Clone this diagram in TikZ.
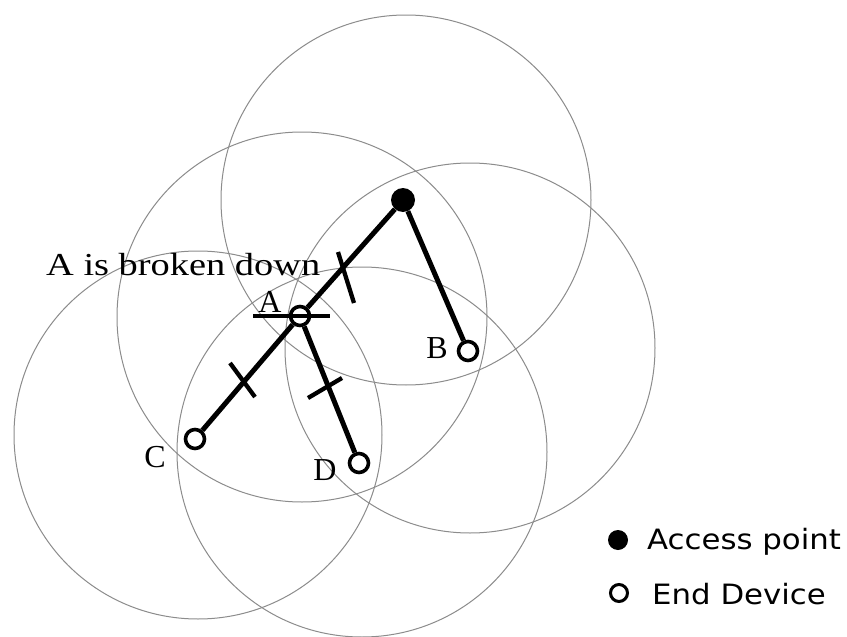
\documentclass[tikz,border=0pt]{standalone}
\usepackage{graphicx}
\usepackage{fontspec}
\setmainfont{Liberation Serif}
\newfontfamily\legendfont{DejaVu Sans}
\begin{document}
\begin{tikzpicture}[x=1pt,y=-1pt,
  coverage/.style={draw=black!45, line width=1pt},
  link/.style={line width=5pt},
  crossmark/.style={line width=4.3pt},
  apnode/.style={circle, fill=black, minimum size=24pt, inner sep=0pt},
  devnode/.style={circle, draw=black, line width=3.6pt, fill=white, minimum size=19pt, inner sep=0pt},
  lbl/.style={font=\fontsize{32}{32}\selectfont, inner sep=0pt, anchor=base},
  leg/.style={font=\legendfont\fontsize{28}{28}\selectfont, inner sep=0pt, anchor=base west}]
\useasboundingbox (0,0) rectangle (847,637);
\fill[white] (0,0) rectangle (847,637);
% coverage ranges
\draw[coverage] (406,200) circle[radius=185];
\draw[coverage] (302,317) circle[radius=185];
\draw[coverage] (470,348) circle[radius=185];
\draw[coverage] (198,435) circle[radius=184];
\draw[coverage] (362,452) circle[radius=185];
% devices
\node[apnode] (AP) at (403,200) {};
\node[devnode] (A) at (300,316) {};
\node[devnode] (B) at (468,351) {};
\node[devnode] (C) at (195,439) {};
\node[devnode] (D) at (359,463) {};
% links
\draw[link] (AP) -- (A);
\draw[link] (AP) -- (B);
\draw[link] (A) -- (C);
\draw[link] (A) -- (D);
% broken marks
\draw[crossmark] (338,252) -- (354,303);
\draw[crossmark] (253,316) -- (330,316);
\draw[crossmark] (230,363) -- (255,397);
\draw[crossmark] (308,398) -- (342,378);
% labels
\node[lbl] (la) at (270,312) {A};
\node[lbl] (lb) at (437,358) {B};
\node[lbl] (lc) at (155,467) {C};
\node[lbl] (ld) at (325,480) {D};
\node[lbl, anchor=base west] (broken) at (46,275) {\scalebox{1.2}[1]{A is broken down}};
% legend
\node[circle, fill=black, minimum width=18pt, minimum height=20pt, inner sep=0pt] (legap) at (618,540) {};
\node[devnode, minimum size=17pt, line width=3pt] (legdev) at (619,593) {};
\node[leg] (legaptext) at (647,549) {\scalebox{1.1}[1]{Access point}};
\node[leg] (legdevtext) at (652,604) {\scalebox{1.1}[1]{End Device}};
\end{tikzpicture}
\end{document}
